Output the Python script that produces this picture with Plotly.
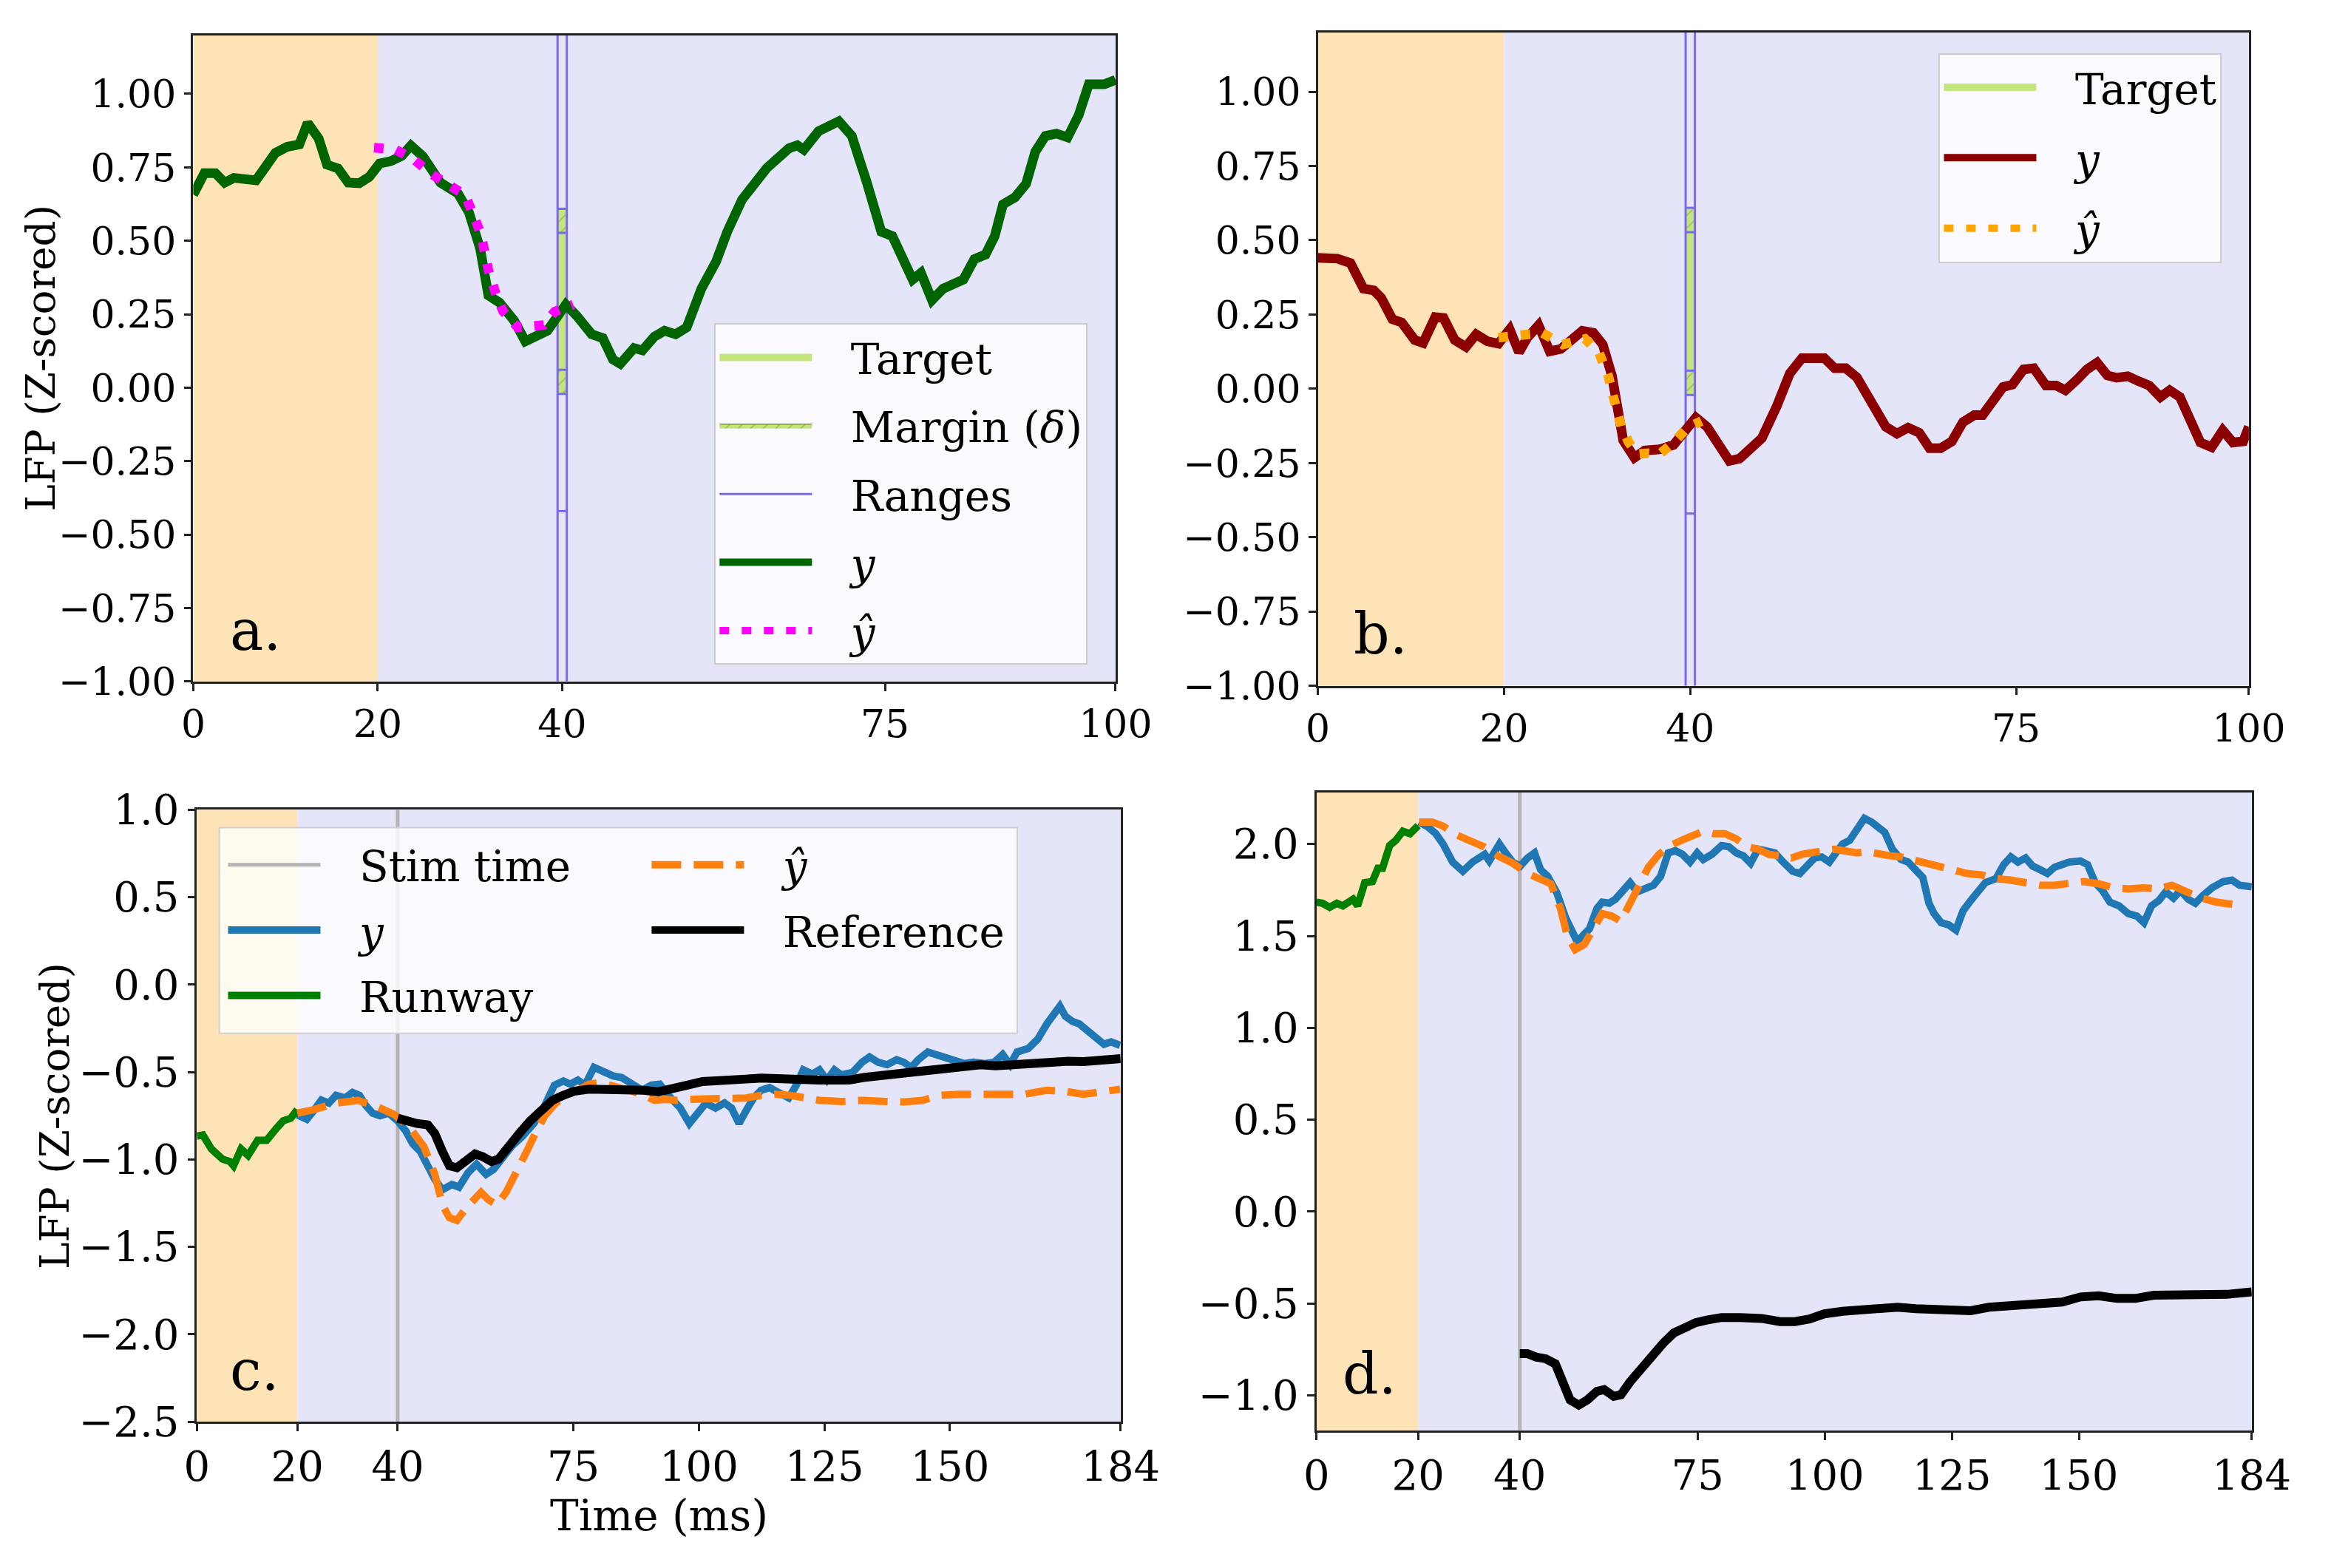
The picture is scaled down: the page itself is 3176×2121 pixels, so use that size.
import plotly.graph_objects as go

FONT = "DejaVu Serif"

# ---------------- panel a ----------------
a_t = [0, 1.2, 2.4, 3.4, 4.4, 5.6, 6.8, 7.8, 8.9, 10.2, 11.5, 12.4, 13.6, 14.5, 15.7, 16.8, 18.0, 19.1, 20.2, 21.4,
       22.6, 23.6, 24.9, 26.8, 28.7, 29.9, 31.1, 32.0, 33.2, 34.8, 36.0, 38.4, 40.4, 41.6, 43.2, 44.4, 45.5, 46.3, 47.8, 48.7,
       50.0, 51.1, 52.3, 53.5, 55.1, 56.7, 57.9, 59.5, 62.2, 64.6, 65.5, 66.2, 67.8, 70.0, 71.4, 73.0, 74.6, 75.8, 77.0, 78.0,
       78.9, 80.1, 81.3, 83.5, 84.7, 85.9, 86.9, 87.8, 89.1, 90.3, 91.3, 92.4, 93.6, 94.8, 96.0, 97.1, 98.8, 100]
a_y = [0.657, 0.730, 0.730, 0.698, 0.714, 0.706, 0.706, 0.750, 0.799, 0.820, 0.828, 0.901, 0.848, 0.759, 0.746, 0.698, 0.696, 0.718, 0.763, 0.771,
       0.789, 0.824, 0.787, 0.698, 0.661, 0.596, 0.474, 0.314, 0.290, 0.228, 0.158, 0.194, 0.283, 0.244, 0.182, 0.169, 0.096, 0.081, 0.135, 0.127,
       0.174, 0.194, 0.182, 0.205, 0.337, 0.430, 0.531, 0.640, 0.748, 0.815, 0.825, 0.810, 0.873, 0.907, 0.857, 0.702, 0.531, 0.516, 0.430, 0.368,
       0.391, 0.298, 0.337, 0.368, 0.438, 0.453, 0.516, 0.624, 0.648, 0.694, 0.803, 0.857, 0.865, 0.852, 0.927, 1.033, 1.033, 1.048]
a_yhat_t = [19.6, 21.9, 23.9, 25.7, 27.7, 29.5, 31.2, 32.0, 32.8, 33.6, 35.2, 36.8, 38.0, 39.2, 41.2]
a_yhat = [0.817, 0.811, 0.778, 0.730, 0.690, 0.655, 0.523, 0.400, 0.320, 0.260, 0.205, 0.205, 0.213, 0.259, 0.283]

# ---------------- panel b ----------------
b_t = [0, 2.1, 3.5, 4.9, 6.0, 6.8, 8.0, 9.0, 10.4, 11.3, 12.6, 13.5, 14.7, 15.9, 17.0, 18.2, 19.4, 20.6, 21.6, 22.5,
       23.7, 24.9, 26.1, 27.3, 28.4, 29.6, 30.6, 31.6, 32.2, 32.8, 34.0, 35.1, 36.7, 38.2, 39.4, 40.6, 41.8, 43.0, 44.2, 45.3,
       46.5, 47.7, 49.3, 50.7, 52.0, 54.4, 55.5, 56.7, 57.9, 59.5, 61.0, 62.2, 63.4, 64.6, 65.7, 66.9, 68.1, 69.3, 70.5, 71.4,
       72.4, 73.6, 74.6, 75.8, 76.9, 78.2, 79.3, 80.3, 81.5, 82.6, 83.7, 84.8, 85.8, 87.0, 88.1, 89.3, 90.5, 91.5, 92.6, 93.6,
       94.8, 96.0, 97.2, 98.3, 99.4, 100]
b_y = [0.441, 0.438, 0.423, 0.337, 0.331, 0.306, 0.234, 0.223, 0.164, 0.154, 0.241, 0.238, 0.164, 0.141, 0.183, 0.160, 0.152, 0.200, 0.123, 0.172,
       0.214, 0.126, 0.134, 0.164, 0.195, 0.188, 0.149, 0.042, -0.066, -0.174, -0.232, -0.208, -0.204, -0.189, -0.143, -0.097, -0.128, -0.181, -0.243, -0.235,
       -0.197, -0.166, -0.058, 0.052, 0.103, 0.103, 0.069, 0.069, 0.038, -0.043, -0.128, -0.151, -0.131, -0.148, -0.200, -0.200, -0.177, -0.112, -0.089, -0.089,
       -0.043, 0.006, 0.014, 0.065, 0.069, 0.011, 0.011, -0.005, 0.029, 0.065, 0.088, 0.045, 0.037, 0.042, 0.026, 0.011, -0.028, -0.005, -0.028, -0.105,
       -0.181, -0.197, -0.140, -0.181, -0.177, -0.128]
b_yhat_t = [19.4, 21.8, 24.1, 26.3, 28.7, 30.2, 31.2, 31.8, 32.6, 33.4, 34.3, 35.5, 36.7, 38.2, 39.7, 41.2]
b_yhat = [0.172, 0.180, 0.188, 0.149, 0.168, 0.121, 0.042, -0.035, -0.128, -0.181, -0.220, -0.217, -0.220, -0.181, -0.131, -0.109]

# target window shared by a and b
target_x = [39.5, 40.5]
target_lo, target_hi = 0.061, 0.527
margin_delta = 0.082
range_floor = -0.42

# ---------------- panel c ----------------
c_run_t = [0, 1.2, 2.9, 5.1, 6.6, 7.3, 8.8, 10.2, 12.1, 13.9, 15.8, 17.2, 18.7, 20.0]
c_run = [-0.866, -0.860, -0.940, -0.998, -1.012, -1.036, -0.940, -0.977, -0.890, -0.890, -0.823, -0.779, -0.764, -0.715]
c_y_t = [20, 21.9, 23.3, 24.8, 26.3, 27.7, 29.5, 31.0, 32.4, 33.6, 35.0, 36.5, 38.2, 40.0, 41.6, 43.0, 44.5, 45.9, 47.4, 48.9,
         50.8, 52.2, 54.0, 55.7, 57.6, 59.1, 61.0, 62.7, 64.9, 67.1, 69.3, 71.2, 73.0, 74.4, 75.9, 77.3, 79.1, 81.0, 82.9, 84.6,
         86.5, 88.7, 90.5, 92.2, 94.1, 96.3, 98.1, 99.2, 101.4, 103.3, 105.1, 106.5, 108.0, 109.4, 110.9, 112.4, 114.1, 116.0, 117.9, 119.4,
         120.8, 122.6, 124.0, 125.5, 127.0, 128.4, 130.6, 132.5, 134.0, 135.7, 137.5, 139.4, 140.8, 142.3, 143.7, 145.6, 147.4, 149.1, 151.0, 152.9,
         154.7, 156.9, 158.8, 160.5, 162.0, 163.4, 165.6, 167.5, 169.3, 170.7, 171.9, 173.0, 174.4, 175.8, 177.3, 179.2, 180.7, 182.1, 183.9]
c_y = [-0.744, -0.770, -0.720, -0.660, -0.677, -0.633, -0.648, -0.616, -0.633, -0.690, -0.735, -0.750, -0.735, -0.779, -0.837, -0.910, -0.954, -1.041, -1.114, -1.173,
       -1.143, -1.158, -1.076, -1.027, -1.085, -1.056, -0.983, -0.925, -0.866, -0.794, -0.691, -0.575, -0.551, -0.569, -0.546, -0.575, -0.473, -0.502, -0.522, -0.531,
       -0.569, -0.604, -0.575, -0.569, -0.639, -0.706, -0.794, -0.750, -0.677, -0.706, -0.677, -0.706, -0.794, -0.721, -0.648, -0.604, -0.589, -0.619, -0.648, -0.575,
       -0.487, -0.511, -0.487, -0.546, -0.487, -0.516, -0.502, -0.444, -0.414, -0.444, -0.458, -0.429, -0.444, -0.473, -0.429, -0.385, -0.400, -0.414, -0.435, -0.452,
       -0.444, -0.452, -0.444, -0.400, -0.458, -0.385, -0.365, -0.312, -0.225, -0.167, -0.123, -0.181, -0.210, -0.225, -0.260, -0.298, -0.341, -0.327, -0.347]
c_yhat_t = [20, 23.3, 27.7, 32.1, 35.8, 39.4, 42.3, 45.2, 47.4, 48.9, 50.3, 51.8, 53.3, 55.2, 56.6, 58.1, 59.8, 61.6, 63.5, 65.7,
            67.4, 69.3, 71.5, 73.7, 75.9, 78.1, 80.3, 82.4, 84.6, 86.8, 89.0, 91.2, 93.4, 95.6, 98.5, 102.1, 105.8, 109.4, 112.4, 115.3,
            118.2, 121.1, 124.0, 128.4, 132.8, 137.2, 140.8, 144.5, 148.1, 151.8, 156.1, 160.5, 164.9, 169.3, 172.9, 176.6, 180.2, 183.9]
c_yhat = [-0.735, -0.715, -0.677, -0.662, -0.697, -0.744, -0.814, -0.925, -1.085, -1.260, -1.333, -1.348, -1.290, -1.231, -1.187, -1.231, -1.260, -1.187, -1.085, -0.954,
          -0.852, -0.750, -0.677, -0.633, -0.604, -0.569, -0.560, -0.575, -0.589, -0.610, -0.633, -0.662, -0.656, -0.662, -0.656, -0.656, -0.656, -0.648, -0.633, -0.627,
          -0.633, -0.648, -0.662, -0.668, -0.662, -0.668, -0.671, -0.662, -0.633, -0.627, -0.627, -0.633, -0.627, -0.604, -0.610, -0.627, -0.610, -0.598]
c_ref_t = [40, 41.6, 43.8, 46.0, 47.4, 48.9, 50.3, 51.8, 53.7, 55.4, 56.9, 58.7, 60.1, 62.0, 64.2, 66.4, 68.6, 70.8, 73.0, 75.1,
           78.1, 81.7, 86.1, 89.0, 91.9, 94.8, 97.7, 100.7, 103.6, 106.5, 109.4, 112.4, 115.3, 118.2, 121.1, 124.0, 127.0, 129.9, 132.8, 135.7,
           138.6, 141.5, 144.5, 147.4, 150.3, 153.2, 156.1, 159.1, 162.0, 164.9, 167.8, 170.7, 173.6, 176.6, 179.5, 184]
c_ref = [-0.764, -0.779, -0.794, -0.802, -0.852, -0.954, -1.036, -1.047, -1.012, -0.968, -0.983, -1.012, -0.998, -0.925, -0.852, -0.779, -0.715, -0.662, -0.633, -0.610,
         -0.598, -0.598, -0.604, -0.604, -0.613, -0.598, -0.575, -0.554, -0.546, -0.537, -0.540, -0.534, -0.540, -0.540, -0.546, -0.546, -0.546, -0.546, -0.531, -0.522,
         -0.516, -0.511, -0.502, -0.487, -0.473, -0.464, -0.458, -0.464, -0.458, -0.446, -0.440, -0.440, -0.438, -0.440, -0.435, -0.423]

# ---------------- panel d ----------------
d_run_t = [0, 1.2, 2.6, 4.0, 5.2, 6.2, 7.2, 8.1, 9.5, 11.0, 12.1, 13.0, 14.4, 15.6, 17.0, 18.4, 20.0]
d_run = [1.684, 1.678, 1.656, 1.678, 1.664, 1.684, 1.700, 1.664, 1.790, 1.796, 1.868, 1.868, 1.992, 2.020, 2.070, 2.056, 2.100]
d_y_t = [20.2, 22.0, 23.5, 24.9, 26.8, 28.8, 30.7, 31.8, 33.1, 34.0, 35.0, 36.0, 37.2, 38.6, 40.1, 41.5, 42.9, 44.1, 45.5, 47.3,
         49.0, 50.1, 51.3, 52.7, 53.7, 55.2, 56.2, 57.6, 58.8, 59.9, 61.7, 63.1, 64.8, 66.3, 67.7, 69.2, 70.6, 72.0, 73.5, 74.9,
         76.1, 77.8, 79.7, 81.1, 82.6, 84.0, 85.4, 86.9, 88.3, 90.2, 91.6, 93.7, 95.1, 96.5, 98.0, 99.4, 100.9, 102.0, 103.5, 104.9,
         106.3, 107.8, 109.2, 110.4, 111.8, 113.3, 115.0, 116.4, 117.9, 119.3, 120.5, 121.5, 122.9, 124.4, 125.8, 127.2, 128.7, 130.1, 131.6, 133.7,
         135.2, 136.6, 138.0, 139.5, 140.9, 142.4, 143.8, 145.2, 146.7, 148.1, 150.3, 151.7, 153.2, 154.6, 156.1, 157.9, 159.7, 161.4, 162.8, 164.3,
         165.7, 167.1, 168.6, 170.0, 171.5, 172.9, 174.4, 176.2, 178.4, 180.1, 181.6, 184]
d_y = [2.120, 2.092, 2.056, 2.000, 1.902, 1.852, 1.902, 1.924, 1.944, 1.908, 1.958, 2.000, 1.952, 1.902, 1.880, 1.924, 1.952, 1.860, 1.824, 1.734,
       1.600, 1.524, 1.468, 1.510, 1.538, 1.650, 1.684, 1.678, 1.700, 1.734, 1.790, 1.740, 1.762, 1.776, 1.824, 1.952, 1.964, 1.944, 1.902, 1.952,
       1.916, 1.944, 1.992, 1.986, 1.952, 1.936, 1.896, 1.972, 1.964, 1.952, 1.908, 1.852, 1.840, 1.888, 1.924, 1.930, 1.902, 1.944, 2.000, 2.020,
       2.084, 2.140, 2.120, 2.092, 2.064, 1.972, 1.916, 1.902, 1.860, 1.818, 1.678, 1.622, 1.572, 1.560, 1.532, 1.636, 1.692, 1.740, 1.790, 1.812,
       1.888, 1.930, 1.902, 1.924, 1.880, 1.860, 1.840, 1.874, 1.888, 1.902, 1.908, 1.888, 1.790, 1.748, 1.684, 1.664, 1.622, 1.608, 1.572, 1.664,
       1.692, 1.740, 1.706, 1.748, 1.700, 1.678, 1.720, 1.762, 1.796, 1.804, 1.776, 1.768]
d_yhat_t = [20.2, 22.8, 24.9, 27.1, 30.0, 32.9, 35.7, 38.6, 41.5, 44.4, 46.1, 48.0, 49.4, 50.9, 52.7, 54.5, 56.2, 58.1, 59.9, 61.7,
            63.4, 65.3, 67.4, 69.6, 71.8, 73.9, 76.1, 78.2, 80.4, 82.6, 84.7, 86.9, 89.0, 91.2, 93.4, 95.5, 97.7, 99.9, 102.0, 104.2,
            106.3, 108.5, 110.7, 112.8, 115.0, 117.1, 119.3, 122.2, 125.1, 128.0, 130.8, 133.7, 136.6, 139.5, 142.4, 145.2, 148.1, 151.0, 153.9, 156.8,
            159.7, 162.5, 165.4, 168.3, 171.2, 174.1, 177.0, 179.8, 182.4]
d_yhat = [2.120, 2.120, 2.098, 2.056, 2.020, 1.986, 1.936, 1.896, 1.840, 1.804, 1.784, 1.650, 1.496, 1.426, 1.454, 1.538, 1.622, 1.608, 1.580, 1.678,
          1.776, 1.874, 1.944, 1.992, 2.020, 2.048, 2.070, 2.056, 2.056, 2.028, 1.986, 1.972, 1.944, 1.936, 1.924, 1.944, 1.958, 1.964, 1.972, 1.964,
          1.952, 1.958, 1.944, 1.936, 1.930, 1.916, 1.902, 1.880, 1.860, 1.840, 1.832, 1.812, 1.804, 1.790, 1.776, 1.776, 1.790, 1.796, 1.784, 1.762,
          1.756, 1.762, 1.756, 1.776, 1.740, 1.706, 1.684, 1.678, 1.664]
d_ref_t = [40, 41.5, 43.2, 45.1, 47.0, 48.4, 49.9, 51.6, 53.3, 55.2, 56.6, 58.5, 59.9, 61.7, 63.8, 66.0, 68.2, 70.3, 72.5, 74.6,
           76.8, 79.7, 83.3, 87.6, 91.2, 94.1, 97.0, 99.9, 103.5, 107.1, 110.7, 114.3, 117.9, 121.5, 125.1, 128.7, 132.3, 135.9, 139.5, 143.1,
           146.7, 150.3, 153.9, 157.5, 161.1, 164.7, 168.3, 171.9, 175.5, 179.1, 184]
d_ref = [-0.772, -0.772, -0.791, -0.800, -0.828, -0.940, -1.024, -1.052, -1.024, -0.977, -0.968, -1.005, -0.996, -0.926, -0.856, -0.786, -0.716, -0.660, -0.632, -0.604,
         -0.590, -0.576, -0.576, -0.581, -0.598, -0.598, -0.584, -0.556, -0.542, -0.534, -0.534, -0.520, -0.528, -0.528, -0.539, -0.539, -0.520, -0.514, -0.506, -0.492,
         -0.492, -0.464, -0.458, -0.472, -0.472, -0.455, -0.455, -0.458, -0.455, -0.450, -0.436]

stim_time = 40
runway_span = [0, 20]

# axis limits and ticks
ab_xlim, ab_ylim = [0, 100], [-1.0, 1.2]
cd_xlim = [0, 184]
c_ylim, d_ylim = [-2.5, 1.0], [-1.19, 2.28]
ab_xticks = [0, 20, 40, 75, 100]
cd_xticks = [0, 20, 40, 75, 100, 125, 150, 184]
ab_yticks = [-1.0, -0.75, -0.5, -0.25, 0.0, 0.25, 0.5, 0.75, 1.0]
c_yticks = [-2.5, -2.0, -1.5, -1.0, -0.5, 0.0, 0.5, 1.0]
d_yticks = [-1.0, -0.5, 0.0, 0.5, 1.0, 1.5, 2.0]

RUNWAY_BG = "#fde3b5"
TRIAL_BG = "#e4e5f8"
TARGET_C = "#c4e57d"
RANGE_C = "#7b68ee"
GAP = "\u2002\u00a0"  # room between legend handle and label, like matplotlib

fig = go.Figure()


def add_target(xa, ya, leg):
    # target is one unit wide -> draw it as a thick vertical stroke
    px_per_unit = 12.8
    fig.add_trace(go.Scatter(x=[sum(target_x) / 2] * 2, y=[target_lo, target_hi], mode="lines",
                             line=dict(color=TARGET_C, width=px_per_unit), name=GAP + "Target",
                             legend=leg, legendgroup=leg + "t", xaxis=xa, yaxis=ya, hoverinfo="skip"))
    # hatched margins above and below the target
    mx, my = [], []
    for lo, hi in [(target_hi, target_hi + margin_delta), (target_lo - margin_delta, target_lo)]:
        mx += [target_x[0], target_x[1], target_x[1], target_x[0], target_x[0], None]
        my += [lo, lo, hi, hi, lo, None]
    fig.add_trace(go.Scatter(x=mx, y=my, mode="lines", fill="toself", fillcolor=TARGET_C,
                             fillpattern=dict(shape="/", fgcolor="#6b8e23", bgcolor=TARGET_C, size=12, solidity=0.12),
                             line=dict(color="#7a9a3a", width=1.5), name=GAP + "Margin (<i>δ</i>)",
                             legend=leg, legendgroup=leg + "m", showlegend=(leg == "legend"),
                             xaxis=xa, yaxis=ya, hoverinfo="skip"))
    # range lines
    rx, ry = [], []
    for xv in target_x:
        rx += [xv, xv, None]
        ry += [ab_ylim[0], ab_ylim[1], None]
    for lev in [range_floor, target_lo - margin_delta, target_lo, target_hi, target_hi + margin_delta]:
        rx += [target_x[0], target_x[1], None]
        ry += [lev, lev, None]
    fig.add_trace(go.Scatter(x=rx, y=ry, mode="lines", line=dict(color=RANGE_C, width=3), name=GAP + "Ranges",
                             legend=leg, legendgroup=leg + "r", showlegend=(leg == "legend"),
                             xaxis=xa, yaxis=ya, hoverinfo="skip"))


# panel a
add_target("x", "y", "legend")
fig.add_trace(go.Scatter(x=a_t, y=a_y, mode="lines", line=dict(color="#006400", width=13),
                         name=GAP + "<i>y</i>", legend="legend", legendgroup="ay", xaxis="x", yaxis="y"))
fig.add_trace(go.Scatter(x=a_yhat_t, y=a_yhat, mode="lines", line=dict(color="#ff00ff", width=13, dash="13px,17px"),
                         name=GAP + "<i>ŷ</i>", legend="legend", legendgroup="ayh", xaxis="x", yaxis="y"))

# panel b
add_target("x2", "y2", "legend2")
fig.add_trace(go.Scatter(x=b_t, y=b_y, mode="lines", line=dict(color="#8b0000", width=13),
                         name=GAP + "<i>y</i>", legend="legend2", legendgroup="by", xaxis="x2", yaxis="y2"))
fig.add_trace(go.Scatter(x=b_yhat_t, y=b_yhat, mode="lines", line=dict(color="#ffa500", width=13, dash="13px,17px"),
                         name=GAP + "<i>ŷ</i>", legend="legend2", legendgroup="byh", xaxis="x2", yaxis="y2"))

# panels c and d
for xa, ya, ylim, run_t, run, y_t, y, yh_t, yh, r_t, r, show in [
        ("x3", "y3", c_ylim, c_run_t, c_run, c_y_t, c_y, c_yhat_t, c_yhat, c_ref_t, c_ref, True),
        ("x4", "y4", d_ylim, d_run_t, d_run, d_y_t, d_y, d_yhat_t, d_yhat, d_ref_t, d_ref, False)]:
    fig.add_trace(go.Scatter(x=[stim_time, stim_time], y=ylim, mode="lines", line=dict(color="#b4b4b4", width=5),
                             name=GAP + "Stim time", legend="legend3", legendgroup="cs", showlegend=show, xaxis=xa, yaxis=ya))
    fig.add_trace(go.Scatter(x=y_t, y=y, mode="lines", line=dict(color="#1f77b4", width=10),
                             name=GAP + "<i>y</i>", legend="legend3", legendgroup="cy", showlegend=show, xaxis=xa, yaxis=ya))
    fig.add_trace(go.Scatter(x=run_t, y=run, mode="lines", line=dict(color="#008000", width=10),
                             name=GAP + "Runway", legend="legend3", legendgroup="cr", showlegend=show, xaxis=xa, yaxis=ya))
    fig.add_trace(go.Scatter(x=yh_t, y=yh, mode="lines", line=dict(color="#ff7f0e", width=10, dash="40px,17px"),
                             name=GAP + "<i>ŷ</i>", legend="legend4", legendgroup="ch", showlegend=show, xaxis=xa, yaxis=ya))
    fig.add_trace(go.Scatter(x=r_t, y=r, mode="lines", line=dict(color="#000000", width=12),
                             name=GAP + "Reference", legend="legend4", legendgroup="cf", showlegend=show, xaxis=xa, yaxis=ya))


def axis(dom, rng, ticks, fmt, size, anchor):
    return dict(domain=dom, range=rng, tickvals=ticks, tickformat=fmt, ticks="outside", ticklen=10,
                tickwidth=2.5, tickcolor="#222222", showline=True, linewidth=2.5, linecolor="#222222",
                mirror=True, showgrid=False, zeroline=False, anchor=anchor,
                tickfont=dict(family=FONT, size=size, color="black"))


W, H = 3176, 2121
dom_a = ([249 / W, 1525 / W], [1 - 918 / H, 1 - 16 / H])
dom_b = ([1805 / W, 3093 / W], [1 - 924 / H, 1 - 12 / H])
dom_c = ([254 / W, 1532 / W], [1 - 1951 / H, 1 - 1097 / H])
dom_d = ([1803 / W, 3097 / W], [1 - 1963 / H, 1 - 1073 / H])

# background spans (runway then trial)
shapes = []
for xr, yr, end in [("x", "y", ab_xlim[1]), ("x2", "y2", ab_xlim[1]), ("x3", "y3", cd_xlim[1]), ("x4", "y4", cd_xlim[1])]:
    shapes.append(dict(type="rect", xref=xr, yref=yr + " domain", x0=runway_span[0], x1=runway_span[1], y0=0, y1=1,
                       fillcolor=RUNWAY_BG, line=dict(width=0), layer="below"))
    shapes.append(dict(type="rect", xref=xr, yref=yr + " domain", x0=runway_span[1], x1=end, y0=0, y1=1,
                       fillcolor=TRIAL_BG, line=dict(width=0), layer="below"))
# frame of the two-column legend of panel c
shapes.append(dict(type="rect", xref="paper", yref="paper", x0=285 / W, x1=1389 / W, y0=1 - 1409 / H, y1=1 - 1122 / H,
                   fillcolor="rgba(255,255,255,0.8)", line=dict(color="#d0d0d0", width=2), layer="above"))

annotations = []
for xr, yr, lab, lx, ly in [("x", "y", "a.", 0.038, 0.079), ("x2", "y2", "b.", 0.0365, 0.079),
                            ("x3", "y3", "c.", 0.034, 0.084), ("x4", "y4", "d.", 0.026, 0.088)]:
    annotations.append(dict(xref=xr + " domain", yref=yr + " domain", x=lx, y=ly, text=lab, showarrow=False,
                            xanchor="left", yanchor="middle", font=dict(family=FONT, size=76, color="black")))
annotations.append(dict(xref="paper", yref="paper", x=38 / W, y=sum(dom_a[1]) / 2, text="LFP (Z-scored)",
                        textangle=-90, showarrow=False, xanchor="center", yanchor="middle",
                        font=dict(family=FONT, size=55, color="black")))
annotations.append(dict(xref="paper", yref="paper", x=58 / W, y=sum(dom_c[1]) / 2, text="LFP (Z-scored)",
                        textangle=-90, showarrow=False, xanchor="center", yanchor="middle",
                        font=dict(family=FONT, size=55, color="black")))
annotations.append(dict(xref="paper", yref="paper", x=893 / W, y=1 - 2082 / H, text="Time (ms)",
                        showarrow=False, xanchor="center", yanchor="middle",
                        font=dict(family=FONT, size=58, color="black")))

leg_font = dict(family=FONT, size=58, color="black")
fig.update_layout(
    width=W, height=H, margin=dict(l=0, r=0, t=0, b=0),
    paper_bgcolor="white", plot_bgcolor="white",
    font=dict(family=FONT, size=52, color="black"),
    xaxis=axis(dom_a[0], ab_xlim, ab_xticks, "d", 52, "y"),
    yaxis=axis(dom_a[1], ab_ylim, ab_yticks, ".2f", 52, "x"),
    xaxis2=axis(dom_b[0], ab_xlim, ab_xticks, "d", 52, "y2"),
    yaxis2=axis(dom_b[1], ab_ylim, ab_yticks, ".2f", 52, "x2"),
    xaxis3=axis(dom_c[0], cd_xlim, cd_xticks, "d", 56, "y3"),
    yaxis3=axis(dom_c[1], c_ylim, c_yticks, ".1f", 56, "x3"),
    xaxis4=axis(dom_d[0], cd_xlim, cd_xticks, "d", 56, "y4"),
    yaxis4=axis(dom_d[1], d_ylim, d_yticks, ".1f", 56, "x4"),
    legend=dict(x=970 / W, y=1 - 418 / H, xanchor="left", yanchor="top", font=leg_font,
                bgcolor="rgba(255,255,255,0.8)", bordercolor="#cccccc", borderwidth=2,
                itemwidth=125, tracegroupgap=14),
    legend2=dict(x=2664 / W, y=1 - 41 / H, xanchor="left", yanchor="top", font=leg_font,
                 bgcolor="rgba(255,255,255,0.8)", bordercolor="#cccccc", borderwidth=2,
                 itemwidth=125, tracegroupgap=17),
    legend3=dict(x=292 / W, y=1 - 1128 / H, xanchor="left", yanchor="top", font=leg_font,
                 bgcolor="rgba(0,0,0,0)", borderwidth=0, itemwidth=125, tracegroupgap=10),
    legend4=dict(x=878 / W, y=1 - 1128 / H, xanchor="left", yanchor="top", font=leg_font,
                 bgcolor="rgba(0,0,0,0)", borderwidth=0, itemwidth=125, tracegroupgap=10),
    shapes=shapes, annotations=annotations,
)

# page margin off so the figure sits at the window's corner; no modebar
fig.write_html("out.html", config={"displayModeBar": False},
               post_script="document.body.style.margin='0';")
